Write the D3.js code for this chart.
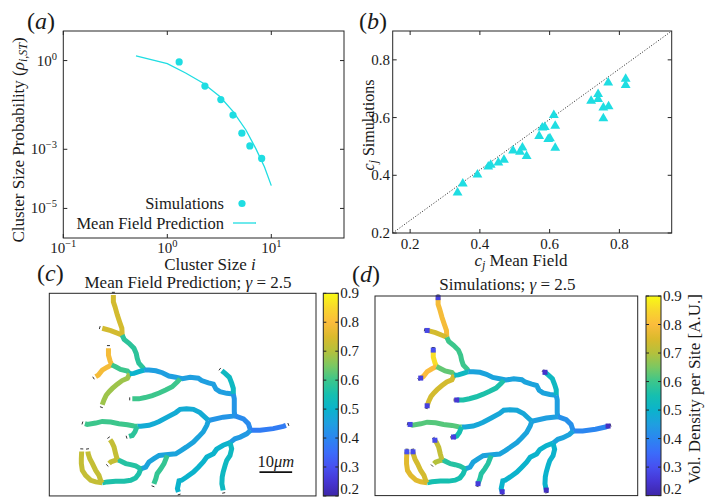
<!DOCTYPE html>
<meta charset="utf-8">
<style>
  body { margin: 0; background: #fff; }
  svg { display: block; font-family: "Liberation Serif", "DejaVu Serif", serif; }
  text { fill: #1a1a1a; }
</style>
<svg width="716" height="497"></svg>
<script src="https://cdnjs.cloudflare.com/ajax/libs/d3/7.8.5/d3.min.js"></script>
<script>
// (a) cluster size distribution
var simSize = [1.3, 2.3, 3.27, 4.28, 5.21, 6.22, 8.08];
var simProb = [0.90, 0.137, 0.048, 0.0144, 0.0035, 0.0013, 0.00049];
var mfSize = [0.5, 1, 1.5, 2.2, 3.2, 4.3, 5.7, 7.1, 8.6, 10];
var mfProb = [1.45, 0.79, 0.38, 0.174, 0.061, 0.0187, 0.0045, 0.00105, 0.00025, 0.000059];
var xTicksA = [0.1, 1, 10], xExpA = ["\u22121", "0", "1"];
var yTicksA = [1, 1e-3, 1e-5], yExpA = ["0", "\u22123", "\u22125"];

// (b) c_j mean field vs simulations
var cjMF = [0.336, 0.351, 0.393, 0.424, 0.431, 0.453, 0.469, 0.495, 0.515, 0.522, 0.534, 0.570, 0.579, 0.586,
  0.596, 0.601, 0.612, 0.616, 0.616, 0.719, 0.739, 0.739, 0.754, 0.769, 0.754, 0.768, 0.818, 0.818];
var cjSim = [0.340, 0.371, 0.402, 0.430, 0.436, 0.444, 0.453, 0.485, 0.481, 0.496, 0.466, 0.536, 0.565, 0.567,
  0.525, 0.528, 0.608, 0.571, 0.495, 0.658, 0.681, 0.664, 0.634, 0.639, 0.597, 0.721, 0.734, 0.712];
var ticksB = [0.2, 0.4, 0.6, 0.8];

// (c),(d) branch network, node coordinates in µm (terminal tip first)
var branchPts = [
  [[19.6,0.5],[19.6,2.6],[20.1,4.1],[20.8,6.6],[21.5,8.7],[22.2,10.7],[22.3,12.8]],
  [[16.2,10.7],[18.8,11.4],[20.8,12.2],[22.3,12.8]],
  [[22.3,12.8],[22.9,14.1],[24.4,15.3],[25.9,16.8],[26.6,18.4],[26.9,19.9],[27.4,21.4],[28.7,22.8],[29.0,23.5]],
  [[18.1,16.8],[18.1,18.9],[18.6,20.7],[19.1,21.9]],
  [[14.2,25.5],[15.0,25.0],[16.2,23.5],[17.7,22.6],[19.1,21.9]],
  [[19.1,21.9],[20.3,22.5],[21.8,23.3],[23.9,23.8],[24.6,24.6]],
  [[16.2,34.1],[16.7,32.7],[17.4,31.2],[18.3,30.1],[19.3,29.1],[20.8,27.8],[22.3,26.7],[23.9,26.0],[24.6,24.6]],
  [[24.6,24.6],[25.9,24.5],[27.4,24.0],[29.0,23.5]],
  [[29.0,23.5],[30.5,23.5],[32.6,23.7],[34.6,24.3],[36.6,25.3],[38.7,25.7],[40.7,26.1],[43.1,25.7],[45.6,26.0],
   [46.6,26.7],[48.7,27.4],[50.2,27.8],[51.0,29.3],[52.2,30.1],[54.3,30.6],[56.3,30.8]],
  [[25.4,32.3],[27.4,32.3],[29.3,31.9],[31.5,31.3],[33.6,30.5],[35.6,29.6],[37.6,28.6],[39.2,27.1],[40.0,26.2]],
  [[52.8,23.7],[53.8,24.5],[55.1,25.7],[55.8,27.5],[56.3,29.1],[56.3,30.8]],
  [[56.3,30.8],[56.6,32.3],[56.6,34.8],[56.6,36.3],[56.8,37.5]],
  [[56.8,37.5],[59.4,38.4],[60.9,39.9],[61.4,41.4],[61.6,41.9]],
  [[72.4,40.4],[71.6,40.7],[68.5,41.4],[64.5,41.9],[61.6,41.9]],
  [[56.8,37.5],[53.2,37.9],[48.7,38.9]],
  [[48.7,38.9],[47.6,37.9],[46.1,36.5],[44.1,35.5],[42.0,35.3],[40.0,35.5],[38.7,36.5],[36.1,37.9],[33.6,39.2],
   [32.0,39.9],[30.5,40.4],[28.0,40.7],[26.9,40.7]],
  [[10.9,39.9],[11.6,40.1],[14.2,39.7],[16.2,39.2],[18.8,39.4],[21.3,39.9],[23.9,40.2],[25.9,40.6],[26.9,40.7]],
  [[24.4,43.8],[25.4,43.5],[26.2,42.4],[26.6,41.4],[26.9,40.7]],
  [[48.7,38.9],[48.2,40.4],[47.1,42.4],[45.6,44.0],[44.1,45.5],[42.0,47.0],[40.5,48.0],[38.7,49.1],[35.6,49.4],
   [33.6,49.6],[32.0,50.6],[30.5,51.6],[29.5,53.2],[28.0,53.7]],
  [[32.0,58.3],[32.6,56.7],[33.0,55.2],[34.1,53.7],[35.1,52.1],[36.1,49.6]],
  [[28.0,53.7],[26.4,52.8],[24.9,52.4],[23.4,52.1],[21.8,51.3],[20.8,50.9]],
  [[18.6,44.8],[19.1,45.5],[19.8,47.0],[20.3,49.1],[20.8,50.9]],
  [[18.3,52.1],[18.8,51.6],[20.8,50.9]],
  [[28.0,53.7],[27.4,55.2],[26.4,56.5],[24.9,57.2],[22.9,57.5],[20.3,57.5],[17.7,57.7],[16.2,58.0]],
  [[9.9,48.4],[9.8,50.6],[9.8,52.1],[10.1,54.2],[11.1,55.7],[12.7,57.2],[14.2,57.7],[16.2,58.0]],
  [[11.8,48.4],[11.9,49.1],[12.4,50.6],[13.2,52.1],[14.2,54.2],[15.2,55.7],[15.7,57.2],[16.2,58.0]],
  [[61.6,41.9],[60.4,43.0],[58.4,44.0],[56.8,44.5],[55.3,45.7]],
  [[39.5,60.8],[39.2,59.8],[39.7,57.4],[40.5,57.2],[42.0,56.2],[44.1,54.7],[45.6,53.2],[47.1,51.6],[48.2,50.1],
   [50.2,49.1],[51.2,47.7],[53.2,46.5],[55.3,45.7]],
  [[53.2,60.3],[52.8,58.3],[52.9,56.2],[53.2,54.7],[53.8,52.6],[54.3,51.1],[55.3,49.6],[55.8,47.6],[55.3,45.7]]
];
var branchMF = [0.74, 0.74, 0.58, 0.79, 0.79, 0.6, 0.68, 0.5, 0.45, 0.6, 0.52, 0.43, 0.41, 0.38, 0.43,
  0.48, 0.6, 0.58, 0.46, 0.59, 0.57, 0.72, 0.72, 0.56, 0.72, 0.72, 0.44, 0.5, 0.52];
var branchSim = [0.79, 0.74, 0.6, 0.86, 0.8, 0.63, 0.74, 0.52, 0.46, 0.56, 0.52, 0.45, 0.42, 0.4, 0.45,
  0.47, 0.62, 0.55, 0.46, 0.57, 0.57, 0.72, 0.7, 0.55, 0.76, 0.74, 0.46, 0.5, 0.5];
// branches ending in a free tip, and the simulated density of that tip site
var tipBranch = [0, 1, 3, 4, 6, 9, 10, 13, 16, 17, 19, 21, 22, 24, 25, 27, 28];
var tipSim = [0.27, 0.28, 0.3, 0.27, 0.27, 0.25, 0.24, 0.23, 0.28, 0.27, 0.26, 0.29, null, 0.3, 0.29, 0.25, 0.23];
var fieldW = 81.6, fieldH = 62, scaleBarLen = 10;
var cbTicks = [0.2, 0.3, 0.4, 0.5, 0.6, 0.7, 0.8, 0.9];

// parula-like colormap
var cmVals = [0.2, 0.25, 0.3, 0.35, 0.4, 0.45, 0.5, 0.55, 0.6, 0.65, 0.7, 0.75, 0.8, 0.85, 0.9];
var cmHex = ["#3e26a8", "#4636d4", "#4750f0", "#3b6cfa", "#2b86f0", "#1f9fe0", "#0bb3cc", "#15bfb0",
  "#3cc68c", "#7bc862", "#b4c13c", "#dbba2c", "#fbbc3c", "#f8d72c", "#f9fb14"];
var cmap = d3.scaleLinear().domain(cmVals).range(cmHex).clamp(true);

var CYAN = "#1fdde2", AX = "#262626", LBL = 16.5;
var svg = d3.select("svg");

function pow10(sel, exp) {
  sel.append("tspan").text("10");
  sel.append("tspan").attr("dy", -6).attr("font-size", 10.5).text(exp);
}

function panelLabel(x, y, letter) {
  var t = svg.append("text").attr("x", x).attr("y", y).attr("font-size", 24);
  t.append("tspan").text("(");
  t.append("tspan").attr("font-style", "italic").text(letter);
  t.append("tspan").text(")");
}

// ---------- panel (a)
var A = {l: 63.3, r: 344, t: 31, b: 238};
var xA = d3.scaleLog().domain([0.1, 50]).range([A.l, A.r]);
var yA = d3.scaleLog().domain([1e-6, 10]).range([A.b, A.t]);
var ga = svg.append("g");

ga.append("path")
  .datum(mfSize.map(function(s, i) { return [s, mfProb[i]]; }))
  .attr("d", d3.line().x(function(d) { return xA(d[0]); }).y(function(d) { return yA(d[1]); }))
  .attr("fill", "none").attr("stroke", CYAN).attr("stroke-width", 1.3);

ga.selectAll(".sim")
  .data(simSize)
  .enter().append("circle")
  .attr("cx", function(d) { return xA(d); })
  .attr("cy", function(d, i) { return yA(simProb[i]); })
  .attr("r", 3.6).attr("fill", CYAN);

ga.append("rect").attr("x", A.l).attr("y", A.t).attr("width", A.r - A.l).attr("height", A.b - A.t)
  .attr("fill", "none").attr("stroke", AX);

xTicksA.forEach(function(t, i) {
  var x = xA(t);
  ga.append("line").attr("x1", x).attr("x2", x).attr("y1", A.b).attr("y2", A.b - 4).attr("stroke", AX);
  ga.append("line").attr("x1", x).attr("x2", x).attr("y1", A.t).attr("y2", A.t + 4).attr("stroke", AX);
  ga.append("text").attr("x", x).attr("y", 253).attr("text-anchor", "middle").attr("font-size", 15)
    .call(pow10, xExpA[i]);
});
yTicksA.forEach(function(t, i) {
  var y = yA(t);
  ga.append("line").attr("x1", A.l).attr("x2", A.l + 4).attr("y1", y).attr("y2", y).attr("stroke", AX);
  ga.append("line").attr("x1", A.r).attr("x2", A.r - 4).attr("y1", y).attr("y2", y).attr("stroke", AX);
  ga.append("text").attr("x", 57).attr("y", y + 5).attr("text-anchor", "end").attr("font-size", 15)
    .call(pow10, yExpA[i]);
});

var xla = ga.append("text").attr("x", 210).attr("y", 270).attr("text-anchor", "middle").attr("font-size", 17);
xla.append("tspan").text("Cluster Size ");
xla.append("tspan").attr("font-style", "italic").text("i");

var yla = ga.append("text").attr("transform", "translate(24,140) rotate(-90)")
  .attr("text-anchor", "middle").attr("font-size", 17);
yla.append("tspan").text("Cluster Size Probability (");
yla.append("tspan").attr("font-style", "italic").text("\u03c1");
yla.append("tspan").attr("font-style", "italic").attr("font-size", 12).attr("dy", 3).text("i,ST");
yla.append("tspan").attr("dy", -3).text(")");

// legend
ga.append("text").attr("x", 224).attr("y", 208.5).attr("text-anchor", "end").attr("font-size", LBL).text("Simulations");
ga.append("circle").attr("cx", 242).attr("cy", 203.5).attr("r", 3.6).attr("fill", CYAN);
ga.append("text").attr("x", 224).attr("y", 228.5).attr("text-anchor", "end").attr("font-size", LBL).text("Mean Field Prediction");
ga.append("line").attr("x1", 233).attr("x2", 256).attr("y1", 223).attr("y2", 223)
  .attr("stroke", CYAN).attr("stroke-width", 1.3);

panelLabel(27, 29, "a");

// ---------- panel (b)
var B = {l: 392.7, r: 671.7, t: 31, b: 233};
var xB = d3.scaleLinear().domain([0.15, 0.95]).range([B.l, B.r]);
var yB = d3.scaleLinear().domain([0.2, 0.9]).range([B.b, B.t]);
var gb = svg.append("g");

// dotted reference line, corner to corner
gb.append("line").attr("x1", xB(0.15)).attr("y1", yB(0.2)).attr("x2", xB(0.95)).attr("y2", yB(0.9))
  .attr("stroke", "#222").attr("stroke-width", 1).attr("stroke-dasharray", "1,1.8");

gb.selectAll(".tri")
  .data(cjMF)
  .enter().append("path")
  .attr("d", d3.symbol().type(d3.symbolTriangle).size(42))
  .attr("transform", function(d, i) { return "translate(" + xB(d) + "," + yB(cjSim[i]) + ")"; })
  .attr("fill", CYAN);

gb.append("rect").attr("x", B.l).attr("y", B.t).attr("width", B.r - B.l).attr("height", B.b - B.t)
  .attr("fill", "none").attr("stroke", AX);

ticksB.forEach(function(t) {
  var x = xB(t), y = yB(t);
  gb.append("line").attr("x1", x).attr("x2", x).attr("y1", B.b).attr("y2", B.b - 4).attr("stroke", AX);
  gb.append("line").attr("x1", x).attr("x2", x).attr("y1", B.t).attr("y2", B.t + 4).attr("stroke", AX);
  gb.append("line").attr("x1", B.l).attr("x2", B.l + 4).attr("y1", y).attr("y2", y).attr("stroke", AX);
  gb.append("line").attr("x1", B.r).attr("x2", B.r - 4).attr("y1", y).attr("y2", y).attr("stroke", AX);
  gb.append("text").attr("x", x).attr("y", 249).attr("text-anchor", "middle").attr("font-size", 15).text(t.toFixed(1));
  gb.append("text").attr("x", 390).attr("y", y + 5).attr("text-anchor", "end").attr("font-size", 15).text(t.toFixed(1));
});

var xlb = gb.append("text").attr("x", 521).attr("y", 266).attr("text-anchor", "middle").attr("font-size", 17);
xlb.append("tspan").attr("font-style", "italic").text("c");
xlb.append("tspan").attr("font-style", "italic").attr("font-size", 12).attr("dy", 3).text("j");
xlb.append("tspan").attr("dy", -3).text(" Mean Field");

var ylb = gb.append("text").attr("transform", "translate(374,125) rotate(-90)")
  .attr("text-anchor", "middle").attr("font-size", 16);
ylb.append("tspan").attr("font-style", "italic").text("c");
ylb.append("tspan").attr("font-style", "italic").attr("font-size", 11.5).attr("dy", 3).text("j");
ylb.append("tspan").attr("dy", -3).text(" Simulations");

panelLabel(359, 29, "b");

// ---------- panels (c), (d)
var defs = svg.append("defs");
var grad = defs.append("linearGradient").attr("id", "parula").attr("x1", 0).attr("y1", 1).attr("x2", 0).attr("y2", 0);
cmVals.forEach(function(v, i) {
  grad.append("stop").attr("offset", (v - 0.2) / 0.7).attr("stop-color", cmHex[i]);
});

function drawTree(box, values, tips, title, cbar, cbLabel) {
  var g = svg.append("g");
  var h = (box.r - box.l) * fieldH / fieldW;
  var xs = d3.scaleLinear().domain([0, fieldW]).range([box.l, box.r]);
  var ys = d3.scaleLinear().domain([0, fieldH]).range([box.t, box.t + h]);
  var line = d3.line().x(function(d) { return xs(d[0]); }).y(function(d) { return ys(d[1]); });

  g.selectAll(".br")
    .data(branchPts)
    .enter().append("path")
    .attr("d", line)
    .attr("fill", "none")
    .attr("stroke", function(d, i) { return cmap(values[i]); })
    .attr("stroke-width", 5)
    .attr("stroke-linejoin", "miter")
    .attr("stroke-linecap", "butt");

  // tiny dark marks just outside each free tip
  g.selectAll(".tick")
    .data(tipBranch)
    .enter().append("line")
    .each(function(b) {
      var p0 = branchPts[b][0], p1 = branchPts[b][1];
      var x0 = xs(p0[0]), y0 = ys(p0[1]), dx = x0 - xs(p1[0]), dy = y0 - ys(p1[1]);
      var n = Math.sqrt(dx * dx + dy * dy) || 1;
      dx /= n; dy /= n;
      d3.select(this)
        .attr("x1", x0 + dx * 2.6 - dy * 1.5).attr("y1", y0 + dy * 2.6 + dx * 1.5)
        .attr("x2", x0 + dx * 2.6 + dy * 1.5).attr("y2", y0 + dy * 2.6 - dx * 1.5);
    })
    .attr("stroke", "#333").attr("stroke-width", 1);

  if (tips) {
    g.selectAll(".tip")
      .data(tipBranch.filter(function(b, i) { return tips[i] != null; }))
      .enter().append("rect")
      .attr("x", function(b) { return xs(branchPts[b][0][0]) - 2.5; })
      .attr("y", function(b) { return ys(branchPts[b][0][1]) - 2.5; })
      .attr("width", 5).attr("height", 5)
      .attr("fill", function(b) { return cmap(tips[tipBranch.indexOf(b)]); });
  }

  g.append("rect").attr("x", box.l).attr("y", box.t).attr("width", box.r - box.l).attr("height", h)
    .attr("fill", "none").attr("stroke", AX);

  var tt = g.append("text").attr("x", title.x).attr("y", title.y).attr("text-anchor", "middle").attr("font-size", 17);
  tt.append("tspan").text(title.text + "; ");
  tt.append("tspan").attr("font-style", "italic").text("\u03b3");
  tt.append("tspan").text(" = 2.5");

  // colorbar
  var cy = d3.scaleLinear().domain([0.2, 0.9]).range([box.t + h, box.t]);
  g.append("rect").attr("x", cbar.l).attr("y", box.t).attr("width", cbar.w).attr("height", h)
    .attr("fill", "url(#parula)").attr("stroke", AX);
  cbTicks.forEach(function(t) {
    var y = cy(t);
    g.append("line").attr("x1", cbar.l).attr("x2", cbar.l + 3).attr("y1", y).attr("y2", y).attr("stroke", AX);
    g.append("line").attr("x1", cbar.l + cbar.w).attr("x2", cbar.l + cbar.w - 3).attr("y1", y).attr("y2", y).attr("stroke", AX);
    g.append("text").attr("x", cbar.l + cbar.w + 2).attr("y", Math.min(y + 5, 494)).attr("font-size", 15).text(t.toFixed(1));
  });
  if (cbLabel) {
    g.append("text").attr("transform", "translate(" + cbLabel.x + "," + cbLabel.y + ") rotate(-90)")
      .attr("text-anchor", "middle").attr("font-size", 17).text(cbLabel.text);
  }
  return {xs: xs, ys: ys, g: g};
}

var pc = drawTree({l: 49.3, r: 316, t: 293.3}, branchMF, null,
  {x: 188, y: 288, text: "Mean Field Prediction"}, {l: 323.3, w: 15}, null);
var pd = drawTree({l: 375, r: 637.7, t: 296}, branchSim, tipSim,
  {x: 507.5, y: 290, text: "Simulations"}, {l: 646, w: 15},
  {x: 700, y: 389, text: "Vol. Density per Site [A.U.]"});

// scale bar in (c)
var sbx = 64.3, sby = 54.7;
pc.g.append("line").attr("x1", pc.xs(sbx)).attr("x2", pc.xs(sbx + scaleBarLen))
  .attr("y1", pc.ys(sby)).attr("y2", pc.ys(sby)).attr("stroke", "#111").attr("stroke-width", 1.6);
var sbt = pc.g.append("text").attr("x", pc.xs(sbx + scaleBarLen / 2)).attr("y", pc.ys(sby) - 5)
  .attr("text-anchor", "middle").attr("font-size", LBL);
sbt.append("tspan").text("10");
sbt.append("tspan").attr("font-style", "italic").text("\u03bcm");

panelLabel(37, 281, "c");
panelLabel(352, 282, "d");
</script>
